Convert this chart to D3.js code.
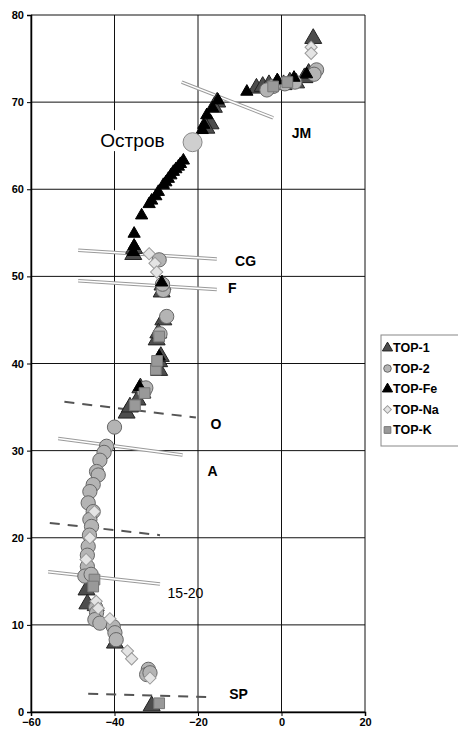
<!DOCTYPE html>
<html>
<head>
<meta charset="utf-8">
<script src="https://cdn.jsdelivr.net/npm/d3@7"></script>
<style>
  body { margin: 0; background: #fff; }
  svg { display: block; }
</style>
</head>
<body>
<svg id="chart" width="458" height="732" font-family="'Liberation Sans', Arial, sans-serif"></svg>
<script>
// Data (x, y)
const top1 = [
  [-6, 71.6], [-4.5, 71.8], [-3, 72], [-1, 72.2], [0.5, 72], [2, 72.3], [3.5, 72.2],
  [5.5, 72.8], [6.5, 73.3], [7.6, 77.3], [-15.4, 70.0], [-16.2, 69.4], [-17, 67.5],
  [-18, 67], [-35.5, 52.5], [-35.3, 53.2], [-28.7, 48.2], [-28.5, 49.0], [-28.3, 45.0],
  [-29.9, 42.7], [-29.5, 43.5], [-29.3, 40.2], [-29.3, 39.2], [-28.9, 40.8], [-33.8, 37.2],
  [-33.3, 36.6], [-34.5, 35.8], [-37.1, 34.3], [-36.3, 35], [-46.7, 14.0], [-46.5, 12.4],
  [-44.5, 12.2], [-39.9, 7.9], [-31.1, 0.7]
];
const top2 = [
  [8.4, 73.7], [7.8, 73.2], [3.2, 72.3], [0.8, 72.1], [-2.0, 71.8], [-3.5, 71.4],
  [-29.3, 51.9], [-28.3, 48.4], [-28.5, 49.1], [-27.5, 45.4], [-29.1, 43.4], [-32.9, 36.8],
  [-32.5, 37.2], [-40.0, 32.7], [-41.9, 30.5], [-42.5, 29.8], [-43.5, 28.9], [-44.3, 27.6],
  [-43.9, 27.2], [-45.1, 26.1], [-45.9, 25.3], [-46.3, 24.0], [-45.1, 23.0], [-45.9, 22.1],
  [-45.5, 21.3], [-46.0, 20.3], [-46.3, 19.0], [-46.5, 18], [-46.5, 16.7], [-47.1, 15.6],
  [-45.6, 15.8], [-44.5, 12.0], [-44.3, 11.4], [-44.7, 10.6], [-43.5, 10.2], [-40.3, 9.8],
  [-39.9, 9.1], [-39.6, 8.3], [-31.9, 4.9], [-32.3, 4.3], [-31.5, 4.5]
];
const topFe = [
  [-8.3, 71.2], [-15.2, 70.2], [-16.5, 69.3], [-17.9, 68.5], [-18.6, 67.4], [-19, 66.8],
  [-23.5, 63.3], [-24.2, 62.9], [-24.7, 62.6], [-25.3, 62.3], [-25.9, 62.0], [-26.5, 61.6],
  [-27.1, 61.2], [-27.7, 60.8], [-28.3, 60.5], [-29.5, 59.7], [-30.1, 59.2], [-31.1, 58.7],
  [-31.7, 58.3], [-33.5, 57.0], [-35.3, 54.9], [-35.3, 53.5], [-35.5, 52.8], [-28.7, 49.3],
  [-29.3, 40.8], [-34, 37.3], [-1, 72.5], [3, 72.8], [6, 73.2]
];
const topNa = [
  [7.1, 76.3], [7.1, 75.6], [-31.7, 52.6], [-30.3, 51.5], [-29.9, 50.5], [-44.8, 23.0],
  [-45.9, 20.0], [-46.8, 17.5], [-44.4, 12.7], [-43.9, 11.9], [-41.1, 10.7], [-36.9, 7.0],
  [-35.9, 6.1], [-31.5, 3.9]
];
const topK = [
  [1.4, 72.3], [-2.0, 71.8], [-29.3, 43.1], [-30.1, 39.3], [-29.8, 40.3], [-35.1, 35.2],
  [-32.8, 36.6], [-44.8, 15.2], [-45.1, 14.4], [-29.3, 1.0]
];
const island = [[-21.3, 65.4]];
const islandLabel = "Остров";

const xTicks = [-60, -40, -20, 0, 20];
const yTicks = [0, 10, 20, 30, 40, 50, 60, 70, 80];

// boundaries: [label, x1, y1, x2, y2, style, labelX, labelY]
const boundaries = [
  ["JM", -23.9, 72.3, -2.0, 68.2, "double", 4.8, 66.4],
  ["CG", -48.7, 53.0, -15.5, 52.0, "double", -8.6, 51.8],
  ["F", -48.7, 49.5, -15.5, 48.5, "double", -11.8, 48.6],
  ["O", -52.0, 35.6, -20.5, 33.8, "dashed", -15.7, 33.0],
  ["A", -53.5, 31.4, -23.7, 29.5, "double", -16.5, 27.6],
  ["", -55.5, 21.7, -29.1, 20.3, "dashed", 0, 0],
  ["15-20", -55.9, 16.1, -29.1, 14.7, "double", -23.0, 13.7],
  ["SP", -46.3, 2.1, -16.7, 1.7, "dashed", -10.3, 2.0]
];

const series = [
  { name: "TOP-1", data: top1, type: d3.symbolTriangle, size: 125, fill: "#4d4d4d", stroke: "#222", rot: 0 },
  { name: "TOP-2", data: top2, type: d3.symbolCircle, size: 160, fill: "#b4b4b4", stroke: "#666", rot: 0 },
  { name: "TOP-Fe", data: topFe, type: d3.symbolTriangle, size: 65, fill: "#000", stroke: "#000", rot: 0 },
  { name: "TOP-Na", data: topNa, type: d3.symbolSquare, size: 75, fill: "#e4e4e4", stroke: "#999", rot: 45 },
  { name: "TOP-K", data: topK, type: d3.symbolSquare, size: 115, fill: "#999", stroke: "#777", rot: 0 }
];

const M = { left: 31, right: 93, top: 15, bottom: 20 };
const W = 458, H = 732;
const svg = d3.select("#chart");

const x = d3.scaleLinear().domain([-60, 20]).range([M.left, W - M.right]);
const y = d3.scaleLinear().domain([0, 80]).range([H - M.bottom, M.top]);

// Grid
const grid = svg.append("g");
grid.selectAll(".gx").data(xTicks).join("line")
  .attr("x1", d => x(d)).attr("x2", d => x(d))
  .attr("y1", y(0)).attr("y2", y(80))
  .attr("stroke", "#111").attr("stroke-width", 1);
grid.selectAll(".gy").data(yTicks).join("line")
  .attr("x1", x(-60)).attr("x2", x(20))
  .attr("y1", d => y(d)).attr("y2", d => y(d))
  .attr("stroke", "#111").attr("stroke-width", 1);

// Axes
const xAxis = svg.append("g")
  .attr("transform", `translate(0,${y(0)})`)
  .call(d3.axisBottom(x).tickValues(xTicks).tickSize(4).tickPadding(2));
const yAxis = svg.append("g")
  .attr("transform", `translate(${x(-60)},0)`)
  .call(d3.axisLeft(y).tickValues(yTicks).tickSize(4).tickPadding(3));
[xAxis, yAxis].forEach(a => {
  a.select(".domain").attr("stroke", "#000").attr("stroke-width", 1.5);
  a.selectAll(".tick line").attr("stroke", "#000");
  a.selectAll("text")
    .attr("font-size", 11).attr("font-weight", "bold").attr("fill", "#000")
    .attr("font-family", "'Liberation Sans', Arial, sans-serif");
});

// Boundary lines
const bnd = svg.append("g");
boundaries.forEach(b => {
  const [lab, x1, y1, x2, y2, style, lx, ly] = b;
  if (style === "double") {
    bnd.append("line").attr("x1", x(x1)).attr("y1", y(y1)).attr("x2", x(x2)).attr("y2", y(y2))
      .attr("stroke", "#9a9a9a").attr("stroke-width", 3.5);
    bnd.append("line").attr("x1", x(x1)).attr("y1", y(y1)).attr("x2", x(x2)).attr("y2", y(y2))
      .attr("stroke", "#fff").attr("stroke-width", 1.5);
  } else {
    bnd.append("line").attr("x1", x(x1)).attr("y1", y(y1)).attr("x2", x(x2)).attr("y2", y(y2))
      .attr("stroke", "#555").attr("stroke-width", 2).attr("stroke-dasharray", "10,8");
  }
  if (lab) {
    bnd.append("text").attr("x", x(lx)).attr("y", y(ly)).attr("dy", "0.35em")
      .attr("text-anchor", "middle").attr("font-size", 14).attr("fill", "#000")
      .attr("font-family", "'Liberation Sans', Arial, sans-serif")
      .attr("font-weight", lab.length <= 2 ? "bold" : "normal")
      .text(lab);
  }
});

// Island label with white box behind
const il = svg.append("g");
const ilText = il.append("text")
  .attr("x", x(-35.7)).attr("y", y(65.6)).attr("dy", "0.35em")
  .attr("text-anchor", "middle").attr("font-size", 19).attr("fill", "#000")
  .attr("font-family", "'Liberation Sans', Arial, sans-serif")
  .text(islandLabel);
const bb = ilText.node().getBBox();
il.insert("rect", "text").attr("x", bb.x - 1).attr("y", bb.y).attr("width", bb.width + 2)
  .attr("height", bb.height).attr("fill", "#fff");

// Points
const pts = svg.append("g");
series.forEach(s => {
  pts.append("g").selectAll("path").data(s.data).join("path")
    .attr("d", d3.symbol().type(s.type).size(s.size))
    .attr("transform", d => `translate(${x(d[0])},${y(d[1])}) rotate(${s.rot})`)
    .attr("fill", s.fill).attr("stroke", s.stroke).attr("stroke-width", 1);
});
pts.selectAll(".island").data(island).join("circle")
  .attr("cx", d => x(d[0])).attr("cy", d => y(d[1])).attr("r", 9.5)
  .attr("fill", "#cfcfcf").attr("stroke", "#888");

// Legend
const lg = svg.append("g").attr("transform", "translate(381,335)");
lg.append("rect").attr("width", 80).attr("height", 111)
  .attr("fill", "#fff").attr("stroke", "#888");
const lgItem = lg.selectAll(".item").data(series).join("g")
  .attr("transform", (d, i) => `translate(0,${13 + i * 20.5})`);
lgItem.append("path")
  .attr("d", d => d3.symbol().type(d.type).size(d.rot ? 30 : 45)())
  .attr("transform", d => `translate(6.5,0) rotate(${d.rot})`)
  .attr("fill", d => d.fill).attr("stroke", d => d.stroke);
lgItem.append("text").attr("x", 12).attr("dy", "0.35em")
  .attr("font-size", 12.5).attr("font-weight", "bold").attr("fill", "#000")
  .attr("font-family", "'Liberation Sans', Arial, sans-serif")
  .text(d => d.name);
</script>
</body>
</html>
